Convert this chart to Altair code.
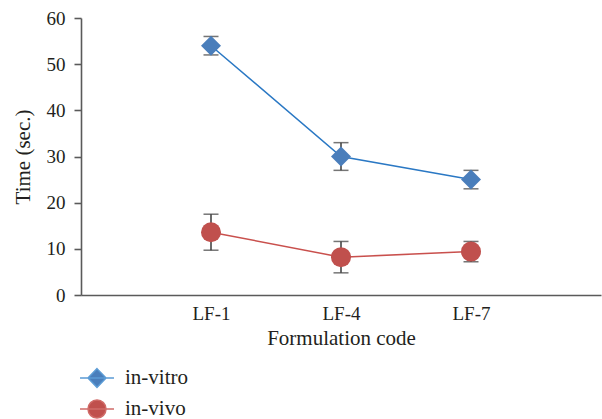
import altair as alt
import pandas as pd

formulations = ["LF-1", "LF-4", "LF-7"]
series_names = ["in-vitro", "in-vivo"]
invitro_mean = [54.0, 30.0, 25.0]
invitro_err = [2.0, 3.0, 2.0]
invivo_mean = [13.6, 8.2, 9.4]
invivo_err = [3.9, 3.4, 2.2]
y_ticks = [0, 10, 20, 30, 40, 50, 60]

rows = []
for s, means, errs in [(series_names[0], invitro_mean, invitro_err),
                       (series_names[1], invivo_mean, invivo_err)]:
    for f, m, e in zip(formulations, means, errs):
        rows.append({"code": f, "series": s, "time": m, "lo": m - e, "hi": m + e})
df = pd.DataFrame(rows)

FONT = "Liberation Serif"
TXT = "#231f20"
AX = "#5a5a5a"

x_enc = alt.X(
    "code:N",
    scale=alt.Scale(type="point", domain=formulations, padding=1),
    axis=alt.Axis(title="Formulation code", ticks=False, labelAngle=0,
                  labelPadding=9, titlePadding=4),
)
y_scale = alt.Scale(domain=[0, 60], nice=False, zero=True)
y_axis = alt.Axis(title="Time (sec.)", values=y_ticks, grid=False, tickSize=7,
                  labelPadding=9, titlePadding=13)

line_scale = alt.Scale(domain=series_names, range=["#2a78c4", "#c9504d"])
fill_scale = alt.Scale(domain=series_names, range=["#4a7ebb", "#c0504d"])
shape_scale = alt.Scale(domain=series_names, range=["diamond", "circle"])

base = alt.Chart(df)

lines = base.mark_line(strokeWidth=1.5).encode(
    x=x_enc,
    y=alt.Y("time:Q", scale=y_scale, axis=y_axis),
    color=alt.Color("series:N", scale=line_scale, legend=None),
    detail="series:N",
)

err_rule = base.mark_rule(color="#3a3a3a", strokeWidth=1.5).encode(
    x=x_enc,
    y=alt.Y("lo:Q", scale=y_scale),
    y2="hi:Q",
)
cap_lo = base.mark_tick(color="#3a3a3a", thickness=1.5, size=15, orient="horizontal").encode(
    x=x_enc, y=alt.Y("lo:Q", scale=y_scale)
)
cap_hi = base.mark_tick(color="#3a3a3a", thickness=1.5, size=15, orient="horizontal").encode(
    x=x_enc, y=alt.Y("hi:Q", scale=y_scale)
)

points = base.mark_point(filled=True, opacity=1, size=400).encode(
    x=x_enc,
    y=alt.Y("time:Q", scale=y_scale),
    fill=alt.Fill("series:N", scale=fill_scale, legend=None),
    shape=alt.Shape("series:N", scale=shape_scale, legend=None),
)

# legend-only layer: custom symbols (line + marker)
diamond_path = "M-1.133,0L1.133,0M0,-0.62L0.6,0L0,0.62L-0.6,0Z"
circle_path = "M-1.133,0L1.133,0M-0.6,0A0.6,0.6,0,1,0,0.6,0A0.6,0.6,0,1,0,-0.6,0Z"
leg_shape = alt.Scale(domain=series_names, range=[diamond_path, circle_path])
leg_fill = alt.Scale(domain=series_names, range=["#4a7ebb", "#c0504d"])
leg_stroke = alt.Scale(domain=series_names, range=["#5b9bd5", "#d06b68"])

legend = alt.Legend(
    title=None, orient="none", legendX=0, legendY=344,
    symbolSize=900, symbolStrokeWidth=1.5, labelOffset=12,
    rowPadding=2, padding=0, labelFont=FONT, labelFontSize=21, labelColor=TXT,
)
leg_layer = base.transform_filter("false").mark_point(filled=True, size=900, opacity=1).encode(
    x=x_enc,
    y=alt.Y("time:Q", scale=y_scale),
    shape=alt.Shape("series:N", scale=leg_shape, legend=legend),
    color=alt.Color("series:N", scale=leg_fill, legend=legend),
    stroke=alt.Stroke("series:N", scale=leg_stroke, legend=legend),
)

chart = (
    alt.layer(err_rule, cap_lo, cap_hi, lines, points, leg_layer)
    .resolve_scale(color="independent", shape="independent", fill="independent", stroke="independent")
    .properties(
        width=520, height=277,
        autosize=alt.AutoSizeParams(type="none"),
        padding={"left": 81, "top": 18, "right": 1, "bottom": 124},
    )
    .configure_view(stroke=None)
    .configure_axis(
        labelFont=FONT, titleFont=FONT, labelFontSize=19, titleFontSize=21,
        labelColor=TXT, titleColor=TXT, titleFontWeight="normal",
        domainColor=AX, domainWidth=1.6, tickColor=AX, tickWidth=1.6,
    )
)

chart.save("out.html", embed_options={"renderer": "svg", "actions": False})
